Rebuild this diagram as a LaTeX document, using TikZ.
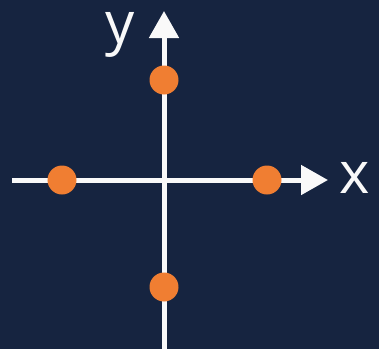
\documentclass[tikz,border=0pt]{standalone}
\usepackage{fontspec}
\setmainfont{Open Sans}
\usetikzlibrary{arrows.meta}
\definecolor{navybg}{RGB}{22,36,64}
\definecolor{dotorange}{RGB}{240,126,50}
\tikzset{
  axis/.style={line width=5bp,draw=white!95!gray,-{Triangle[length=27bp,width=29bp]}},
  dot/.style={circle,fill=dotorange,minimum size=29bp,inner sep=0pt},
  lbl/.style={text=white!95!gray,font=\fontsize{58bp}{58bp}\selectfont,inner sep=0pt}
}
\begin{document}
\begin{tikzpicture}[x=1bp,y=-1bp]
  \fill[navybg] (0,0) rectangle (379,349);
  \useasboundingbox (0,0) rectangle (379,349);
  % axes
  \coordinate (xstart) at (12,180);
  \coordinate (xend) at (328,180);
  \coordinate (ystart) at (164,352);
  \coordinate (yend) at (164,11);
  \draw[axis] (xstart) -- (xend);
  \draw[axis] (ystart) -- (yend);
  % points
  \node[dot] (top) at (164,80) {};
  \node[dot] (left) at (62,180) {};
  \node[dot] (right) at (267,180) {};
  \node[dot] (bottom) at (164,287) {};
  % labels
  \node[lbl] (xlbl) at (355,178) {x};
  \node[lbl] (ylbl) at (120,35) {y};
\end{tikzpicture}
\end{document}
